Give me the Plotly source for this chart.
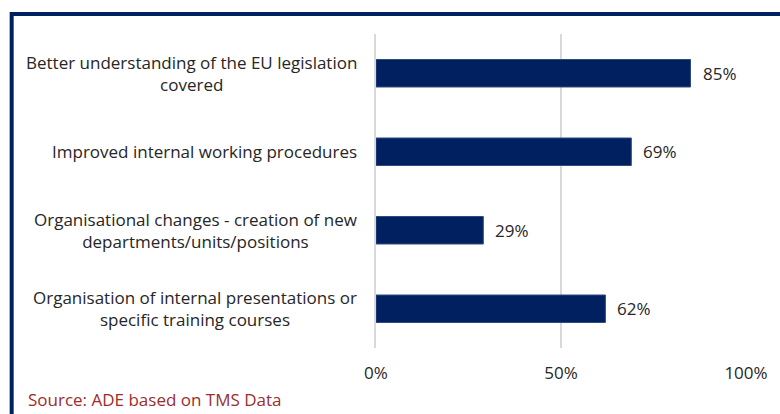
import plotly.graph_objects as go

categories = [
    "Better understanding of the EU legislation<br>covered",
    "Improved internal working procedures",
    "Organisational changes - creation of new<br>departments/units/positions",
    "Organisation of internal presentations or<br>specific training courses",
]
values = [85, 69, 29, 62]
value_labels = ["85%", "69%", "29%", "62%"]
tick_vals = [0, 50, 100]
tick_text = ["0%", "50%", "100%"]
source_text = "Source: ADE based on TMS Data"

W, H = 780, 414
L, R, T, B = 375.5, 32.3, 34, 66
pw, ph = W - L - R, H - T - B

def px_x(px):
    return (px - L) / pw

def px_y(py):
    return (H - B - py) / ph

FONT = "Open Sans"
FS = 17
TXT = "#262626"
NAVY = "#002060"

fig = go.Figure()
fig.add_trace(go.Bar(
    x=values,
    y=categories,
    orientation="h",
    marker=dict(color=NAVY, line=dict(color="#2F4A80", width=1)),
    width=0.35,
    cliponaxis=False,
    hoverinfo="skip",
))

annotations = []
for c in categories:
    annotations.append(dict(
        x=px_x(358), y=c, xref="paper", yref="y",
        text=c, showarrow=False, xanchor="right", yanchor="middle",
        align="center", font=dict(family=FONT, size=FS, color=TXT),
    ))
for c, v, lab in zip(categories, values, value_labels):
    annotations.append(dict(
        x=v, y=c, xref="x", yref="y", text=lab, showarrow=False,
        xanchor="left", yanchor="middle", xshift=10,
        font=dict(family=FONT, size=FS, color=TXT),
    ))
annotations.append(dict(
    x=px_x(24), y=px_y(412), xref="paper", yref="paper",
    text=source_text, showarrow=False, xanchor="left", yanchor="bottom",
    borderpad=0,
    font=dict(family=FONT, size=FS, color="#9B2D2D"),
))

fig.update_layout(
    width=W, height=H,
    margin=dict(l=L, r=R, t=T, b=B, pad=0),
    paper_bgcolor="white", plot_bgcolor="white",
    showlegend=False,
    annotations=annotations,
    shapes=[dict(
        type="rect", xref="paper", yref="paper",
        x0=px_x(9), x1=px_x(800), y0=px_y(440), y1=px_y(14),
        line=dict(color=NAVY, width=4), layer="above",
    )],
    xaxis=dict(
        range=[0, 100], tickvals=tick_vals, ticktext=tick_text,
        showgrid=True, gridcolor="#D9D9D9", gridwidth=2,
        zeroline=False, showline=False, ticks="",
        tickfont=dict(family=FONT, size=FS, color=TXT),
        ticklabelstandoff=13, fixedrange=True,
    ),
    yaxis=dict(
        autorange="reversed", showticklabels=False, showgrid=False,
        zeroline=False, showline=True, linecolor="#D9D9D9", linewidth=2,
        ticks="", fixedrange=True,
    ),
)

fig.write_html(
    "out.html",
    config={"displayModeBar": False, "staticPlot": True},
    post_script="document.body.style.margin='0';document.body.style.overflow='hidden';",
)
